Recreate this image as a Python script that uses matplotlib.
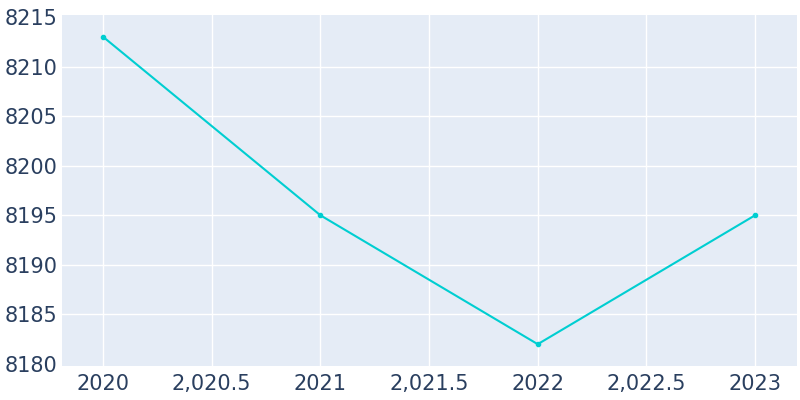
import matplotlib
matplotlib.use("Agg")
import matplotlib.pyplot as plt
from matplotlib.ticker import FuncFormatter, MultipleLocator

years = [2020, 2021, 2022, 2023]
population = [8213, 8195, 8182, 8195]

fig = plt.figure(figsize=(8, 4), dpi=100)
ax = fig.add_axes([62/800, 34/400, (797-62)/800, (366-15)/400])
ax.set_facecolor("#E5ECF6")
ax.plot(years, population, color="#00CED1", linewidth=1.5, marker="o", markersize=3, zorder=3)

ax.set_xlim(2019.811, 2023.193)
ax.set_ylim(8179.8, 8215.2)
ax.xaxis.set_major_locator(MultipleLocator(0.5))
ax.yaxis.set_major_locator(MultipleLocator(5))

def xfmt(v, pos):
    if abs(v - round(v)) < 1e-9:
        return f"{int(round(v))}"
    return f"{v:,.1f}"

ax.xaxis.set_major_formatter(FuncFormatter(xfmt))
ax.yaxis.set_major_formatter(FuncFormatter(lambda v, p: f"{int(round(v))}"))
ax.grid(True, color="white", linewidth=1)
ax.set_axisbelow(True)
for s in ax.spines.values():
    s.set_visible(False)
ax.tick_params(axis="both", length=0, labelsize=15, labelcolor="#2a3f5f")
ax.tick_params(axis="y", pad=3)
ax.tick_params(axis="x", pad=6)

fig.canvas.draw()
lo, hi = min(population) - 2, max(population) + 2
for tick in ax.yaxis.get_major_ticks():
    v = tick.get_loc()
    if v <= 8180 or v >= 8215:
        tick.gridline.set_visible(False)

fig.savefig("out.png", dpi=100)
